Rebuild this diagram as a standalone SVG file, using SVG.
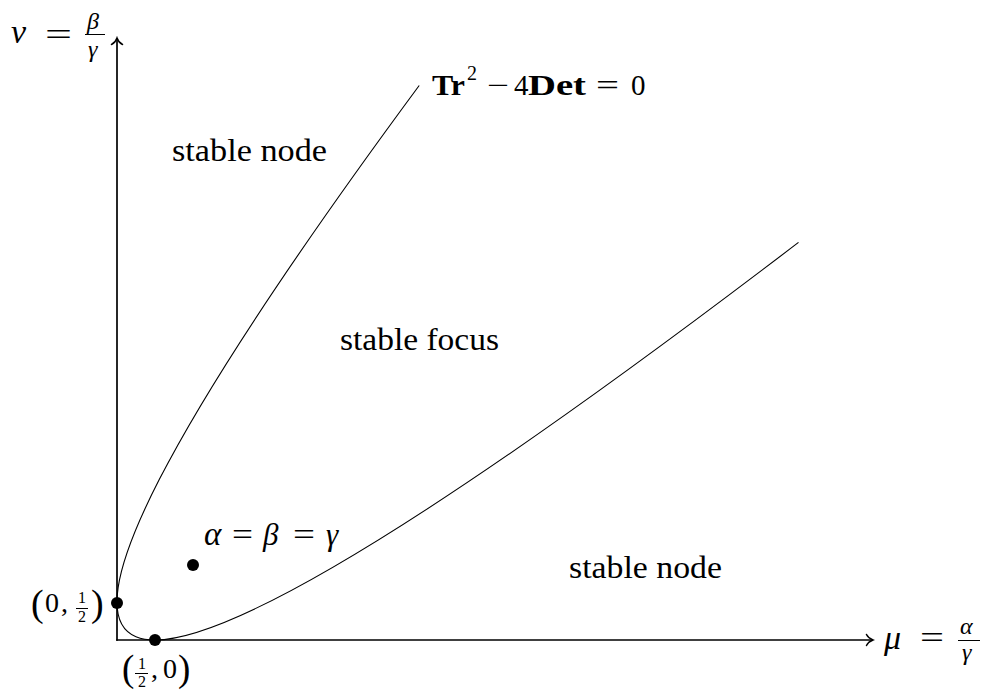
<svg xmlns="http://www.w3.org/2000/svg" width="984" height="690" viewBox="0 0 984 690">
<style>
.t{font-family:"Liberation Serif","DejaVu Serif",serif;fill:#000}
.g{font-family:"Liberation Serif","DejaVu Serif",serif;font-style:italic;fill:#000}
.b{font-weight:bold}
.axis{stroke:#000;stroke-width:1.7;fill:none}
.curve{stroke:#000;stroke-width:1.1;fill:none}
.dot{fill:#000}
.bar{stroke:#000;stroke-width:1}
</style>
<defs>
<marker id="tip" viewBox="-8 -7 10 14" markerWidth="10" markerHeight="14" refX="0" refY="0" orient="auto" markerUnits="userSpaceOnUse">
<path d="M-6.5,-5.5 C-5,-2.5 -2,-0.7 0,0 C-2,0.7 -5,2.5 -6.5,5.5" fill="none" stroke="#000" stroke-width="1.5" stroke-linecap="round"/>
</marker>
</defs>
<rect width="984" height="690" fill="#fff"/>
<g id="connectors">
<path id="x-axis" class="axis" d="M116.2,640 H873" marker-end="url(#tip)"/>
<path id="y-axis" class="axis" d="M117,640.8 V38" marker-end="url(#tip)"/>
<path id="boundary" class="curve" d="M419.2,85.5 Q-336.9,1109.6 798.5,242.4"/>
</g>
<g id="points">
<circle id="p-y" class="dot" cx="117" cy="603" r="6"/>
<circle id="p-x" class="dot" cx="155" cy="640" r="6"/>
<circle id="p-eq" class="dot" cx="193" cy="565" r="6"/>
</g>
<g id="y-label">
<text class="g" x="11" y="43" font-size="34">ν</text>
<text class="t" x="45" y="45" font-size="31" textLength="27" lengthAdjust="spacingAndGlyphs">=</text>
<text class="g" x="87" y="29" font-size="24">β</text>
<line class="bar" x1="85" y1="34.5" x2="105" y2="34.5"/>
<text class="g" x="88" y="57" font-size="24">γ</text>
</g>
<g id="x-label">
<text class="g" x="884" y="649" font-size="34">μ</text>
<text class="t" x="920" y="648" font-size="31" textLength="24" lengthAdjust="spacingAndGlyphs">=</text>
<text class="g" x="960" y="634" font-size="24">α</text>
<line class="bar" x1="958" y1="640.5" x2="980" y2="640.5"/>
<text class="g" x="962" y="660" font-size="24">γ</text>
</g>
<g id="curve-label">
<text class="t b" x="432" y="95" font-size="29" textLength="33" lengthAdjust="spacingAndGlyphs">Tr</text>
<text class="t" x="467" y="80" font-size="20">2</text>
<text class="t" x="487" y="95" font-size="29" textLength="22" lengthAdjust="spacingAndGlyphs">−</text>
<text class="t" x="514" y="95" font-size="29">4</text>
<text class="t b" x="528" y="95" font-size="29" textLength="58" lengthAdjust="spacingAndGlyphs">Det</text>
<text class="t" x="596" y="95" font-size="29" textLength="23" lengthAdjust="spacingAndGlyphs">=</text>
<text class="t" x="631" y="95" font-size="29">0</text>
</g>
<g id="eq-label">
<text class="g" x="204" y="545" font-size="33">α</text>
<text class="t" x="232" y="545" font-size="31" textLength="21" lengthAdjust="spacingAndGlyphs">=</text>
<text class="g" x="263" y="545" font-size="31">β</text>
<text class="t" x="293" y="545" font-size="31" textLength="22" lengthAdjust="spacingAndGlyphs">=</text>
<text class="g" x="326" y="545" font-size="31">γ</text>
</g>
<g id="p-y-label">
<text class="t" x="31" y="616" font-size="38">(</text>
<text class="t" x="45" y="612" font-size="28">0</text>
<text class="t" x="61" y="612" font-size="28">,</text>
<text class="t" x="78" y="603" font-size="16">1</text>
<line class="bar" x1="76" y1="608.5" x2="88" y2="608.5"/>
<text class="t" x="78" y="622" font-size="16">2</text>
<text class="t" x="91" y="616" font-size="38">)</text>
</g>
<g id="p-x-label">
<text class="t" x="122" y="681" font-size="37">(</text>
<text class="t" x="138" y="669" font-size="16">1</text>
<line class="bar" x1="135" y1="673.5" x2="148" y2="673.5"/>
<text class="t" x="138" y="687" font-size="16">2</text>
<text class="t" x="151" y="678" font-size="28">,</text>
<text class="t" x="163" y="678" font-size="28">0</text>
<text class="t" x="178" y="681" font-size="37">)</text>
</g>
<g id="regions">
<text id="r-node-top" class="t" x="172" y="161" font-size="31" textLength="155" lengthAdjust="spacingAndGlyphs">stable node</text>
<text id="r-focus" class="t" x="340" y="350" font-size="31" textLength="159" lengthAdjust="spacingAndGlyphs">stable focus</text>
<text id="r-node-bottom" class="t" x="569" y="578" font-size="31" textLength="153" lengthAdjust="spacingAndGlyphs">stable node</text>
</g>
</svg>
